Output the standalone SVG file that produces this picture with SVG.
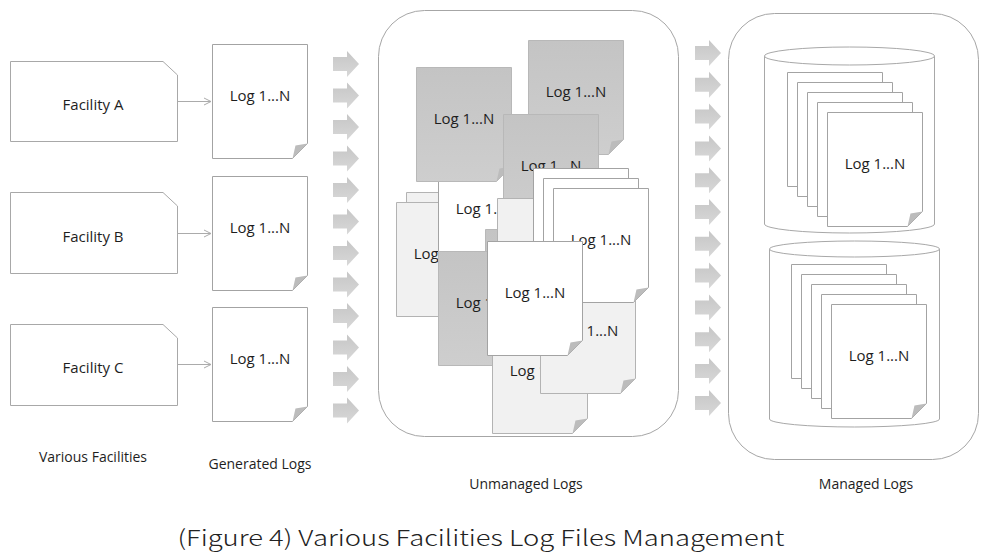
<svg xmlns="http://www.w3.org/2000/svg" xmlns:xlink="http://www.w3.org/1999/xlink" width="998" height="554" viewBox="0 0 998 554">
<style>
.bg{fill:#fff}
.box{fill:#fff;stroke:#a8a8a8;stroke-width:1}
.cont{fill:#fff;stroke:#a6a6a6;stroke-width:1}
.dw{fill:#fff;stroke:#a3a3a3;stroke-width:1}
.dl{fill:#f1f1f1;stroke:#b3b3b3;stroke-width:1}
.dd{fill:url(#gDark);stroke:#b8b8b8;stroke-width:1}
.fold{fill:#bcbcbc}
.t{font-family:"Open Sans","Noto Sans","Liberation Sans",sans-serif;font-size:15px;fill:#1e1e1e;text-anchor:middle}
.lbl{font-family:"Open Sans","Noto Sans","Liberation Sans",sans-serif;font-size:14px;fill:#1e1e1e;text-anchor:middle}
.cap{font-family:"Noto Sans CJK KR","Liberation Sans",sans-serif;font-size:22px;font-weight:300;fill:#222;text-anchor:middle}
.conn{fill:none;stroke:#ababab;stroke-width:1}
.blk{fill:url(#gArrow)}
.cyl{fill:#fff;stroke:#a8a8a8;stroke-width:1}
</style>
<defs>
<linearGradient id="gDark" x1="0" y1="0" x2="0" y2="1">
<stop offset="0" stop-color="#c4c4c4"/>
<stop offset="1" stop-color="#cecece"/>
</linearGradient>
<linearGradient id="gArrow" x1="0" y1="0" x2="0" y2="1">
<stop offset="0" stop-color="#c6c6c6"/>
<stop offset="1" stop-color="#d8d8d8"/>
</linearGradient>
<path id="doc" d="M0,0H95V99L80,114H0Z"/>
<path id="fold" d="M95,99L80,114L83,101Z"/>
<path id="blk" d="M0,-7H14V-13L26,0L14,13V7H0Z"/>
<marker id="open" markerWidth="10" markerHeight="10" refX="8" refY="5" orient="auto" markerUnits="userSpaceOnUse">
<path d="M1,1.5L8,5L1,8.5" fill="none" stroke="#ababab" stroke-width="1"/>
</marker>
</defs>
<rect class="bg" x="0" y="0" width="998" height="554"/>

<g id="facility-a"><path class="box" d="M10.5,61.5H163L177.5,75V141.5H10.5Z"/><text class="t" x="93" y="110">Facility A</text></g>
<g id="facility-b"><path class="box" d="M10.5,192.5H163L177.5,206V273.5H10.5Z"/><text class="t" x="93" y="242">Facility B</text></g>
<g id="facility-c"><path class="box" d="M10.5,324.5H163L177.5,338V405.5H10.5Z"/><text class="t" x="93" y="373">Facility C</text></g>

<g id="log-a" transform="translate(212.5,44.5)"><use href="#doc" class="dw"/><use href="#fold" class="fold"/><text class="t" x="47.5" y="56">Log 1...N</text></g>
<g id="log-b" transform="translate(212.5,176.5)"><use href="#doc" class="dw"/><use href="#fold" class="fold"/><text class="t" x="47.5" y="56">Log 1...N</text></g>
<g id="log-c" transform="translate(212.5,307.5)"><use href="#doc" class="dw"/><use href="#fold" class="fold"/><text class="t" x="47.5" y="56">Log 1...N</text></g>

<g id="connectors">
<line class="conn" x1="177.5" y1="101.5" x2="211" y2="101.5" marker-end="url(#open)"/>
<line class="conn" x1="177.5" y1="233.5" x2="211" y2="233.5" marker-end="url(#open)"/>
<line class="conn" x1="177.5" y1="364.5" x2="211" y2="364.5" marker-end="url(#open)"/>
</g>

<g id="arrows-in">
<use href="#blk" class="blk" x="333" y="64"/>
<use href="#blk" class="blk" x="333" y="95.5"/>
<use href="#blk" class="blk" x="333" y="127"/>
<use href="#blk" class="blk" x="333" y="158.5"/>
<use href="#blk" class="blk" x="333" y="190"/>
<use href="#blk" class="blk" x="333" y="221.5"/>
<use href="#blk" class="blk" x="333" y="253"/>
<use href="#blk" class="blk" x="333" y="284.5"/>
<use href="#blk" class="blk" x="333" y="316"/>
<use href="#blk" class="blk" x="333" y="347.5"/>
<use href="#blk" class="blk" x="333" y="379"/>
<use href="#blk" class="blk" x="333" y="410.5"/>
</g>

<g id="unmanaged">
<rect class="cont" x="378.5" y="10.5" width="300" height="426" rx="46" ry="46"/>
<g transform="translate(406.5,192.5)"><use href="#doc" class="dl"/></g>
<g transform="translate(396.5,202.5)"><use href="#doc" class="dl"/><text class="t" x="47.5" y="56">Log 1...N</text></g>
<g transform="translate(438.5,157.5)"><use href="#doc" class="dw"/><text class="t" x="47.5" y="56">Log 1...N</text></g>
<g transform="translate(416.5,67.5)"><use href="#doc" class="dd"/><use href="#fold" class="fold"/><text class="t" x="47.5" y="56">Log 1...N</text></g>
<g transform="translate(528.5,40.5)"><use href="#doc" class="dd"/><use href="#fold" class="fold"/><text class="t" x="47.5" y="56">Log 1...N</text></g>
<g transform="translate(503.5,114.5)"><use href="#doc" class="dd"/><text class="t" x="47.5" y="56">Log 1...N</text></g>
<g transform="translate(485.5,229.5)"><use href="#doc" class="dd"/></g>
<g transform="translate(497.5,198.5)"><use href="#doc" class="dl"/></g>
<g transform="translate(438.5,251.5)"><use href="#doc" class="dd"/><text class="t" x="47.5" y="56">Log 1...N</text></g>
<g transform="translate(492.5,319.5)"><use href="#doc" class="dl"/><use href="#fold" class="fold"/><text class="t" x="47.5" y="56">Log 1...N</text></g>
<g transform="translate(540.5,279.5)"><use href="#doc" class="dl"/><use href="#fold" class="fold"/><text class="t" x="47.5" y="56">Log 1...N</text></g>
<g transform="translate(533.5,168.5)"><use href="#doc" class="dw"/></g>
<g transform="translate(543.5,178.5)"><use href="#doc" class="dw"/></g>
<g transform="translate(553.5,188.5)"><use href="#doc" class="dw"/><use href="#fold" class="fold"/><text class="t" x="47.5" y="56">Log 1...N</text></g>
<g transform="translate(487.5,241.5)"><use href="#doc" class="dw"/><use href="#fold" class="fold"/><text class="t" x="47.5" y="56">Log 1...N</text></g>
</g>

<g id="arrows-out">
<use href="#blk" class="blk" x="695" y="53"/>
<use href="#blk" class="blk" x="695" y="84.8"/>
<use href="#blk" class="blk" x="695" y="116.6"/>
<use href="#blk" class="blk" x="695" y="148.4"/>
<use href="#blk" class="blk" x="695" y="180.2"/>
<use href="#blk" class="blk" x="695" y="212"/>
<use href="#blk" class="blk" x="695" y="243.8"/>
<use href="#blk" class="blk" x="695" y="275.6"/>
<use href="#blk" class="blk" x="695" y="307.4"/>
<use href="#blk" class="blk" x="695" y="339.2"/>
<use href="#blk" class="blk" x="695" y="371"/>
<use href="#blk" class="blk" x="695" y="403"/>
</g>

<g id="managed">
<rect class="cont" x="728.5" y="13.5" width="250" height="446" rx="46" ry="46"/>
<g id="db-1">
<path class="cyl" d="M764.5,56V224A85,9 0 0 0 934.5,224V56"/>
<ellipse class="cyl" cx="849.5" cy="56" rx="85" ry="9"/>
<g transform="translate(787.5,72.5)"><use href="#doc" class="dw"/></g>
<g transform="translate(797.5,82.5)"><use href="#doc" class="dw"/></g>
<g transform="translate(807.5,92.5)"><use href="#doc" class="dw"/></g>
<g transform="translate(817.5,102.5)"><use href="#doc" class="dw"/></g>
<g transform="translate(827.5,112.5)"><use href="#doc" class="dw"/><use href="#fold" class="fold"/><text class="t" x="47.5" y="56">Log 1...N</text></g>
</g>
<g id="db-2">
<path class="cyl" d="M769.5,249V419A85,8 0 0 0 939.5,419V249"/>
<ellipse class="cyl" cx="854.5" cy="249" rx="85" ry="8"/>
<g transform="translate(791.5,264.5)"><use href="#doc" class="dw"/></g>
<g transform="translate(801.5,274.5)"><use href="#doc" class="dw"/></g>
<g transform="translate(811.5,284.5)"><use href="#doc" class="dw"/></g>
<g transform="translate(821.5,294.5)"><use href="#doc" class="dw"/></g>
<g transform="translate(831.5,304.5)"><use href="#doc" class="dw"/><use href="#fold" class="fold"/><text class="t" x="47.5" y="56">Log 1...N</text></g>
</g>
</g>

<g id="labels">
<text class="lbl" x="93" y="462">Various Facilities</text>
<text class="lbl" x="260" y="469">Generated Logs</text>
<text class="lbl" x="526" y="489">Unmanaged Logs</text>
<text class="lbl" x="866" y="489">Managed Logs</text>
<text class="cap" x="481" y="546" textLength="607" lengthAdjust="spacingAndGlyphs">(Figure 4) Various Facilities Log Files Management</text>
</g>
</svg>
